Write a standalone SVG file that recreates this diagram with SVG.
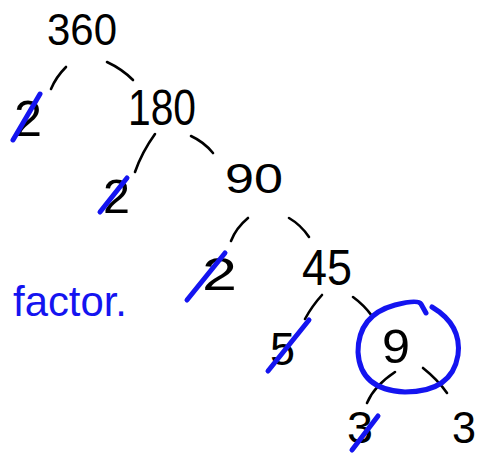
<svg xmlns="http://www.w3.org/2000/svg" width="480" height="454" viewBox="0 0 480 454">
<style>
.n{font-family:"Liberation Sans","DejaVu Sans",sans-serif;fill:#000}
.c{fill:none;stroke:#000;stroke-width:2.6;stroke-linecap:round}
.s{fill:none;stroke:#1414f0;stroke-width:5;stroke-linecap:round}
</style>
<rect width="480" height="454" fill="#fff"/>
<g id="connectors">
<path class="c" d="M66 67 Q56 77 51 89"/>
<path class="c" d="M107 62 Q122 69 133 80"/>
<path class="c" d="M155 134 Q142 152 135 172"/>
<path class="c" d="M191 136 Q204 142 213 153"/>
<path class="c" d="M248 218 Q236 228 231 241"/>
<path class="c" d="M289 218 Q301 225 309 237"/>
<path class="c" d="M322 295 Q312 306 305 319"/>
<path class="c" d="M353 297 Q364 305 372 316"/>
<path class="c" d="M395 372 Q374 386 367 403"/>
<path class="c" d="M423 368 Q438 380 447 393"/>
</g>
<g id="n360"><text class="n" x="47" y="45" font-size="44" textLength="70" lengthAdjust="spacingAndGlyphs">360</text></g>
<g id="n2a"><text class="n" x="14" y="136" font-size="50" textLength="28" lengthAdjust="spacingAndGlyphs">2</text><path class="s" d="M40 94 L13 140"/></g>
<g id="n180"><text class="n" x="128" y="125" font-size="50" textLength="68" lengthAdjust="spacingAndGlyphs">180</text></g>
<g id="n2b"><text class="n" x="103" y="213" font-size="48" textLength="27" lengthAdjust="spacingAndGlyphs">2</text><path class="s" d="M127 178 L100 212"/></g>
<g id="n90"><text class="n" x="225" y="193" font-size="42" textLength="58" lengthAdjust="spacingAndGlyphs">90</text></g>
<g id="n2c"><text class="n" x="202" y="290" font-size="46" textLength="35" lengthAdjust="spacingAndGlyphs">2</text><path class="s" d="M225 253 L187 300"/></g>
<g id="n45"><text class="n" x="302" y="285" font-size="50" textLength="50" lengthAdjust="spacingAndGlyphs">45</text></g>
<g id="n5"><text class="n" x="270" y="365" font-size="46" textLength="25" lengthAdjust="spacingAndGlyphs">5</text><path class="s" d="M309 320 L268 371"/></g>
<g id="n9"><text class="n" x="382" y="363" font-size="48" textLength="28" lengthAdjust="spacingAndGlyphs">9</text><path class="s" d="M432 307 Q462 325 458 355 Q452 392 405 392 Q360 390 358 352 Q358 315 395 305 Q418 299 421 304 L426 313"/></g>
<g id="n3a"><text class="n" x="347" y="443" font-size="44" textLength="26" lengthAdjust="spacingAndGlyphs">3</text><path class="s" d="M378 416 L352 450"/></g>
<g id="n3b"><text class="n" x="452" y="443" font-size="44" textLength="24" lengthAdjust="spacingAndGlyphs">3</text></g>
<g id="label"><text x="13" y="316" font-family="Liberation Sans,DejaVu Sans,sans-serif" font-size="42" fill="#1414f0" textLength="114" lengthAdjust="spacingAndGlyphs">factor.</text></g>
</svg>
